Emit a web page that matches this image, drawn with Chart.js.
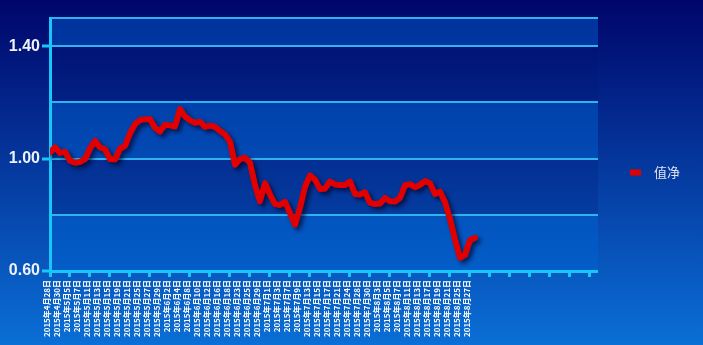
<!DOCTYPE html>
<html>
<head>
<meta charset="utf-8">
<script src="https://cdn.jsdelivr.net/npm/chart.js@4.4.1/dist/chart.umd.min.js"></script>
<style>
  html, body { margin: 0; padding: 0; background: #00056a; }
  #wrap { width: 703px; height: 345px; }
</style>
</head>
<body>
<div id="wrap"><canvas id="navChart" width="703" height="345"></canvas></div>
<script>
// Trading days (one every 5px on the x axis)
const dates = [
    '2015年4月28日', '2015年4月29日', '2015年4月30日',
    '2015年5月4日', '2015年5月5日', '2015年5月6日', '2015年5月7日', '2015年5月8日',
    '2015年5月11日', '2015年5月12日', '2015年5月13日', '2015年5月14日', '2015年5月15日',
    '2015年5月18日', '2015年5月19日', '2015年5月20日', '2015年5月21日', '2015年5月22日',
    '2015年5月25日', '2015年5月26日', '2015年5月27日', '2015年5月28日', '2015年5月29日',
    '2015年6月1日', '2015年6月2日', '2015年6月3日', '2015年6月4日', '2015年6月5日',
    '2015年6月8日', '2015年6月9日', '2015年6月10日', '2015年6月11日', '2015年6月12日',
    '2015年6月15日', '2015年6月16日', '2015年6月17日', '2015年6月18日', '2015年6月19日',
    '2015年6月23日', '2015年6月24日', '2015年6月25日', '2015年6月26日',
    '2015年6月29日', '2015年6月30日', '2015年7月1日', '2015年7月2日', '2015年7月3日',
    '2015年7月6日', '2015年7月7日', '2015年7月8日', '2015年7月9日', '2015年7月10日',
    '2015年7月13日', '2015年7月14日', '2015年7月15日', '2015年7月16日', '2015年7月17日',
    '2015年7月20日', '2015年7月21日', '2015年7月23日', '2015年7月24日',
    '2015年7月27日', '2015年7月28日', '2015年7月29日', '2015年7月30日', '2015年7月31日',
    '2015年8月3日', '2015年8月4日', '2015年8月5日', '2015年8月6日', '2015年8月7日',
    '2015年8月10日', '2015年8月11日', '2015年8月12日', '2015年8月13日', '2015年8月14日',
    '2015年8月17日', '2015年8月18日', '2015年8月19日', '2015年8月20日', '2015年8月21日',
    '2015年8月24日', '2015年8月25日', '2015年8月26日', '2015年8月27日', '2015年8月28日'
];

// 净值
const nav = [
    1.022, 1.040, 1.020, 1.024, 0.992, 0.985, 0.988, 0.998, 1.036, 1.063,
    1.040, 1.033, 0.998, 0.997, 1.035, 1.045, 1.090, 1.122, 1.137, 1.140,
    1.140, 1.110, 1.096, 1.120, 1.118, 1.114, 1.176, 1.150, 1.136, 1.127,
    1.131, 1.113, 1.117, 1.113, 1.098, 1.086, 1.060, 0.978, 0.998, 1.003,
    0.985, 0.905, 0.848, 0.912, 0.872, 0.838, 0.835, 0.846, 0.806, 0.765,
    0.825, 0.900, 0.940, 0.925, 0.892, 0.893, 0.918, 0.908, 0.906, 0.906,
    0.918, 0.874, 0.872, 0.880, 0.843, 0.838, 0.840, 0.860, 0.848, 0.847,
    0.860, 0.905, 0.909, 0.898, 0.906, 0.920, 0.912, 0.874, 0.882, 0.845,
    0.785, 0.712, 0.647, 0.657, 0.710, 0.718
];

const seriesName = '值净';
const xMax = 109.6;                       // axis keeps going past the last day
const yTicks = [0.6, 0.8, 1.0, 1.2, 1.4, 1.5];
const yLabels = [0.6, 1.0, 1.4];

const xTicks = [];
for (let i = 0; i <= 108; i += 2) xTicks.push(i);

const CYAN = '#19c6f7';

// gradient page + alternating bands behind the grid
const backdrop = {
    id: 'backdrop',
    beforeDraw(chart) {
        const { ctx, width, height, chartArea: a, scales } = chart;
        ctx.save();
        const g = ctx.createLinearGradient(0, 0, 0, height);
        g.addColorStop(0, '#00056a');
        g.addColorStop(1, '#0a6fd6');
        ctx.fillStyle = g;
        ctx.fillRect(0, 0, width, height);
        const y = scales.y;
        for (let i = 0; i < yTicks.length - 1; i++) {
            const top = y.getPixelForValue(yTicks[i + 1]);
            const bottom = y.getPixelForValue(yTicks[i]);
            ctx.fillStyle = i % 2 === 0 ? 'rgba(0,100,210,0.45)' : 'rgba(0,20,110,0.2)';
            ctx.fillRect(a.left, top, a.right - a.left, bottom - top);
        }
        ctx.restore();
    }
};

const lineShadow = {
    id: 'lineShadow',
    beforeDatasetDraw(chart) {
        const c = chart.ctx;
        c.save();
        c.shadowColor = 'rgba(0,0,40,0.65)';
        c.shadowBlur = 4;
        c.shadowOffsetX = 3;
        c.shadowOffsetY = 3;
    },
    afterDatasetDraw(chart) {
        chart.ctx.restore();
    }
};

new Chart(document.getElementById('navChart'), {
    type: 'line',
    data: {
        datasets: [{
            label: seriesName,
            data: nav.map((v, i) => ({ x: i, y: v })),
            borderColor: '#e00000',
            backgroundColor: '#e00000',
            borderWidth: 6,
            borderJoinStyle: 'round',
            borderCapStyle: 'round',
            pointRadius: 0,
            tension: 0
        }]
    },
    options: {
        responsive: false,
        animation: false,
        devicePixelRatio: 1,
        layout: { padding: { top: 0, right: 13, left: 0, bottom: 0 } },
        plugins: {
            tooltip: { enabled: false },
            legend: {
                position: 'right',
                labels: {
                    usePointStyle: true,
                    pointStyle: 'line',
                    pointStyleWidth: 11,
                    padding: 32,
                    color: '#dde4f2',
                    font: { size: 13, family: '"Noto Sans CJK SC", sans-serif' },
                    generateLabels: chart =>
                        Chart.defaults.plugins.legend.labels.generateLabels(chart)
                            .map(item => ({ ...item, text: '\u2002' + item.text }))
                }
            }
        },
        scales: {
            x: {
                type: 'linear',
                min: 0,
                max: xMax,
                afterBuildTicks: s => { s.ticks = xTicks.map(v => ({ value: v })); },
                afterFit: s => { s.height = 74; },
                grid: {
                    drawOnChartArea: false,
                    tickLength: 6,
                    tickWidth: 3,
                    tickColor: c => (c.tick && c.tick.value % 4 === 0) ? CYAN : 'rgba(0,0,0,0)'
                },
                border: { color: CYAN, width: 3 },
                ticks: {
                    autoSkip: false,
                    minRotation: 90,
                    maxRotation: 90,
                    padding: 3,
                    labelOffset: -3,
                    color: '#ffffff',
                    font: { size: 8, weight: 'bold', family: '"Noto Sans CJK SC", sans-serif' },
                    callback: v => (v % 2 === 0 && dates[v]) ? dates[v] : ''
                }
            },
            y: {
                min: 0.6,
                max: 1.5,
                afterBuildTicks: s => { s.ticks = yTicks.map(v => ({ value: v })); },
                afterFit: s => { s.width = 50; s.paddingTop = 18; },
                grid: {
                    color: '#2fb2ee',
                    lineWidth: 2,
                    tickLength: 8,
                    tickWidth: 3,
                    tickColor: c => (c.tick && yLabels.includes(c.tick.value)) ? CYAN : 'rgba(0,0,0,0)'
                },
                border: { color: CYAN, width: 3 },
                ticks: {
                    padding: 2,
                    color: '#eef2fa',
                    font: { size: 16, weight: 'bold', family: '"Liberation Sans", Arial, sans-serif' },
                    callback: v => yLabels.includes(v) ? v.toFixed(2) : ''
                }
            }
        }
    },
    plugins: [backdrop, lineShadow]
});
</script>
</body>
</html>
